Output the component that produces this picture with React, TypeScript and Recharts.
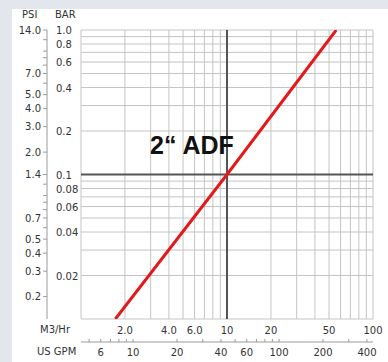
import { Line, LineChart, ReferenceLine, XAxis, YAxis } from 'recharts';

// flow (m3/hr) vs pressure drop (bar)
const FLOW_M3 = [1.72, 10, 56];
const DROP_BAR = [0.01, 0.1, 1.0];

const GPM_PER_M3 = 4.4;
const PSI_PER_BAR = 14;

const M3_TICKS = [2, 4, 6, 10, 20, 50, 100];
const GPM_TICKS = [6, 10, 20, 40, 60, 100, 200, 400];
const GPM_MINOR = [5, 7, 8, 9, 30, 50, 70, 80, 90, 300];
const BAR_TICKS = [0.02, 0.04, 0.06, 0.08, 0.1, 0.2, 0.4, 0.6, 0.8, 1.0];
const PSI_TICKS = [0.2, 0.3, 0.4, 0.5, 0.7, 1.4, 2, 3, 4, 5, 7, 14];
const PSI_MINOR = [0.6, 0.8, 0.9, 1, 1.2, 6, 8, 9, 10, 12];

const GRID_M3 = [1, 2, 3, 4, 5, 6, 7, 8, 9, 20, 30, 40, 50, 60, 70, 80, 90, 100];
const GRID_BAR = [0.01, 0.02, 0.03, 0.04, 0.05, 0.06, 0.07, 0.08, 0.09, 0.2, 0.3, 0.4, 0.5, 0.6, 0.7, 0.8, 0.9, 1.0];

const FONT = '"DejaVu Sans", Verdana, sans-serif';
const TEXT = '#333333';

const rows = FLOW_M3.map((flow, i) => ({
  flow,
  bar: DROP_BAR[i],
  gpm: flow * GPM_PER_M3,
  psi: DROP_BAR[i] * PSI_PER_BAR,
}));

function M3Tick(props: any) {
  const { x, y, payload } = props;
  const v = payload.value;
  return (
    <text x={x} y={y + 15} textAnchor="middle" fill={TEXT} fontSize={10} fontFamily={FONT}>
      {v >= 10 ? String(v) : v.toFixed(1)}
    </text>
  );
}

function GpmTick(props: any) {
  const { x, y, payload } = props;
  const shown = GPM_TICKS.includes(payload.value);
  return (
    <g>
      <line x1={x} x2={x} y1={y} y2={y - 3} stroke="#9a9a9a" />
      {shown ? (
        <text x={x} y={y + 14} textAnchor="middle" fill={TEXT} fontSize={10} fontFamily={FONT}>
          {String(payload.value)}
        </text>
      ) : null}
    </g>
  );
}

function BarTick(props: any) {
  const { x, y, payload } = props;
  const v = payload.value;
  return (
    <text x={x - 25} y={y + 4} textAnchor="start" fill={TEXT} fontSize={10} fontFamily={FONT}>
      {v >= 0.1 ? v.toFixed(1) : v.toFixed(2)}
    </text>
  );
}

const label = (left: number, top: number, text: string) => (
  <div
    style={{
      position: 'absolute',
      left,
      top,
      fontFamily: FONT,
      fontSize: 10,
      color: TEXT,
      lineHeight: '12px',
      whiteSpace: 'nowrap',
    }}
  >
    {text}
  </div>
);

export default function App() {
  return (
    <div style={{ position: 'fixed', left: 0, top: 0, width: 388, height: 362, background: '#e4e6ee' }}>
      <div style={{ position: 'absolute', left: 12, top: 9, width: 376, height: 353, background: '#ffffff' }}>
        <LineChart
          width={376}
          height={353}
          data={rows}
          margin={{ top: 21, right: 15, bottom: 0, left: 0 }}
        >
          <XAxis
            xAxisId="x1"
            dataKey="flow"
            type="number"
            scale="log"
            domain={[1, 100]}
            allowDataOverflow
            ticks={M3_TICKS}
            interval={0}
            height={23}
            axisLine={false}
            tickLine={false}
            tickSize={0}
            tickMargin={0}
            tick={<M3Tick />}
          />
          <XAxis
            xAxisId="x2"
            dataKey="gpm"
            type="number"
            scale="log"
            domain={[4.4, 440]}
            allowDataOverflow
            ticks={[...GPM_TICKS, ...GPM_MINOR].sort((a, b) => a - b)}
            interval={0}
            height={20}
            axisLine={{ stroke: '#9a9a9a' }}
            tickLine={false}
            tickSize={0}
            tickMargin={0}
            tick={<GpmTick />}
          />
          <YAxis
            yAxisId="y1"
            dataKey="bar"
            type="number"
            scale="log"
            domain={[0.01, 1]}
            allowDataOverflow
            ticks={BAR_TICKS}
            interval={0}
            width={34}
            axisLine={false}
            tickLine={false}
            tickSize={0}
            tickMargin={0}
            tick={<BarTick />}
          />
          <YAxis
            yAxisId="y2"
            dataKey="psi"
            type="number"
            scale="log"
            domain={[0.14, 14]}
            allowDataOverflow
            ticks={[...PSI_TICKS, ...PSI_MINOR].sort((a, b) => a - b)}
            interval={0}
            tickFormatter={(v: number) => (PSI_TICKS.includes(v) ? v.toFixed(1) : '')}
            width={35}
            axisLine={{ stroke: '#9a9a9a' }}
            tickLine={{ stroke: '#9a9a9a' }}
            tickSize={4}
            tickMargin={2}
            tick={{ fill: TEXT, fontSize: 10, fontFamily: FONT }}
          />
          {GRID_M3.map((v) => (
            <ReferenceLine key={`x${v}`} x={v} xAxisId="x1" yAxisId="y1" stroke="#c4c4c4" strokeWidth={1} />
          ))}
          {GRID_BAR.map((v) => (
            <ReferenceLine key={`y${v}`} y={v} xAxisId="x1" yAxisId="y1" stroke="#c4c4c4" strokeWidth={1} />
          ))}
          <ReferenceLine x={10} xAxisId="x1" yAxisId="y1" stroke="#555555" strokeWidth={2} />
          <ReferenceLine y={0.1} xAxisId="x1" yAxisId="y1" stroke="#555555" strokeWidth={2} />
          <Line
            xAxisId="x2"
            yAxisId="y2"
            dataKey="psi"
            stroke="none"
            dot={false}
            activeDot={false}
            isAnimationActive={false}
          />
          <Line
            xAxisId="x1"
            yAxisId="y1"
            dataKey="bar"
            type="linear"
            stroke="#e3191b"
            strokeWidth={3}
            dot={false}
            activeDot={false}
            isAnimationActive={false}
          />
        </LineChart>
        {label(10, 0, 'PSI')}
        {label(43, 0, 'BAR')}
        {label(28, 315, 'M3/Hr')}
        {label(25, 337, 'US GPM')}
        <div
          style={{
            position: 'absolute',
            left: 138,
            top: 122,
            fontFamily: '"Liberation Sans", Arial, sans-serif',
            fontWeight: 700,
            fontSize: 25,
            color: '#111111',
            lineHeight: '28px',
            whiteSpace: 'nowrap',
          }}
        >
          2“ ADF
        </div>
      </div>
    </div>
  );
}
